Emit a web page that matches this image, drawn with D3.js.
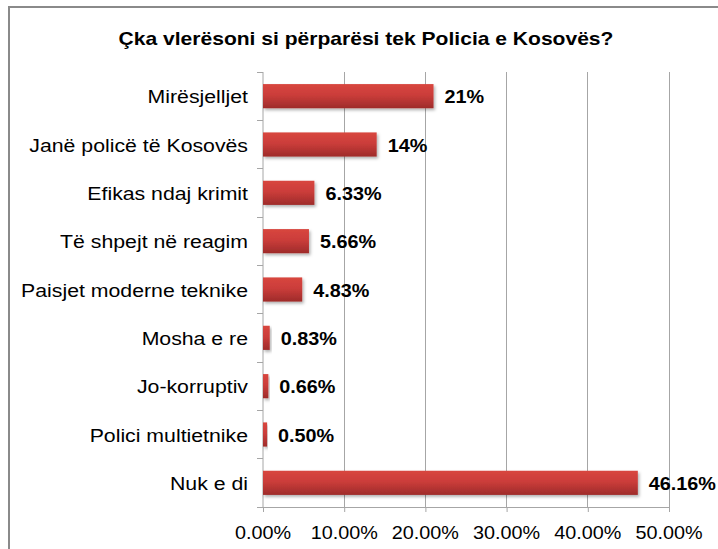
<!DOCTYPE html>
<html><head><meta charset="utf-8">
<script src="https://cdn.jsdelivr.net/npm/d3@7"></script>
<style>body{margin:0;background:#fff}svg{display:block}</style>
</head><body>
<svg id="chart" width="718" height="549"></svg>
<script>
const title = "Çka vlerësoni si përparësi tek Policia e Kosovës?";
const categories = ["Mirësjelljet","Janë policë të Kosovës","Efikas ndaj krimit","Të shpejt në reagim","Paisjet moderne teknike","Mosha e re","Jo-korruptiv","Polici multietnike","Nuk e di"];
const values = [21, 14, 6.33, 5.66, 4.83, 0.83, 0.66, 0.50, 46.16];
const valueLabels = ["21%","14%","6.33%","5.66%","4.83%","0.83%","0.66%","0.50%","46.16%"];
const tickValues = [0, 10, 20, 30, 40, 50];
const tickLabels = ["0.00%","10.00%","20.00%","30.00%","40.00%","50.00%"];

(function(){
const svg = d3.select("#chart");
const font = "Liberation Sans, Arial, sans-serif";
const pL = 263, pR = 669, pT = 72, pB = 507;

const x = d3.scaleLinear().domain([0, 50]).range([pL, pR]);
const y = d3.scaleBand().domain(categories).range([pT, pB]).paddingInner(0.5).paddingOuter(0.25);

const defs = svg.append("defs");
const grad = defs.append("linearGradient").attr("id","barGrad").attr("x1",0).attr("y1",0).attr("x2",0).attr("y2",1);
grad.append("stop").attr("offset","0%").attr("stop-color","#d8463f");
grad.append("stop").attr("offset","45%").attr("stop-color","#cb3d3a");
grad.append("stop").attr("offset","100%").attr("stop-color","#9e2b2a");
const f = defs.append("filter").attr("id","shadow").attr("x","-10%").attr("y","-30%").attr("width","130%").attr("height","180%");
f.append("feDropShadow").attr("dx",1.5).attr("dy",2).attr("stdDeviation",1.5).attr("flood-color","#000").attr("flood-opacity",0.3);

svg.append("rect").attr("x",9).attr("y",7).attr("width",720).attr("height",560)
  .attr("fill","none").attr("stroke","#8a8a8a").attr("stroke-width",2);

function stext(g, x0, y0, str, opts) {
  return g.append("g").attr("transform", `translate(${x0},${y0}) scale(${opts.sx},1)`)
    .append("text").text(str)
    .attr("font-family", font).attr("font-size", opts.size)
    .attr("font-weight", opts.weight || "normal")
    .attr("text-anchor", opts.anchor || "start")
    .attr("fill", "#000");
}

stext(svg, 366, 45, title, {size: 18, sx: 1.17, weight: "bold", anchor: "middle"});

svg.append("g").selectAll("line").data(tickValues.slice(1)).join("line")
  .attr("x1", d => x(d)).attr("x2", d => x(d)).attr("y1", pT).attr("y2", pB)
  .attr("stroke", "#a6a6a6").attr("stroke-width", 1).attr("shape-rendering","crispEdges");

const xAxis = svg.append("g").attr("transform", `translate(0,${pB})`)
  .call(d3.axisBottom(x).tickValues(tickValues).tickSize(5).tickFormat(""));
xAxis.select(".domain").attr("stroke","#a6a6a6");
xAxis.selectAll(".tick line").attr("stroke","#a6a6a6");
tickValues.forEach((v, i) => stext(svg, x(v), 539, tickLabels[i], {size: 18, sx: 1.1, anchor: "middle"}));

const yAxis = svg.append("g").attr("transform", `translate(${pL},0)`)
  .call(d3.axisLeft(y).tickSize(0).tickFormat(""));
yAxis.select(".domain").attr("stroke","#a6a6a6").attr("d", `M0,${pT}V${pB}`);
const bounds = categories.map(c => y(c) - y.step()*y.paddingInner()/2).concat([pB]);
svg.append("g").selectAll("line").data(bounds).join("line")
  .attr("x1", pL - 6).attr("x2", pL).attr("y1", d => d).attr("y2", d => d)
  .attr("stroke","#a6a6a6").attr("shape-rendering","crispEdges");

categories.forEach(c => stext(svg, 248, y(c) + y.bandwidth()/2 + 7, c, {size: 18.5, sx: 1.15, anchor: "end"}));

svg.append("g").selectAll("rect").data(values).join("rect")
  .attr("x", x(0)).attr("y", (d, i) => y(categories[i]))
  .attr("width", d => x(d) - x(0)).attr("height", y.bandwidth())
  .attr("fill", "url(#barGrad)").attr("filter","url(#shadow)");

values.forEach((v, i) => stext(svg, x(v) + 11, y(categories[i]) + y.bandwidth()/2 + 7, valueLabels[i], {size: 18, sx: 1.1, weight: "bold"}));
})();
</script>
</body></html>
